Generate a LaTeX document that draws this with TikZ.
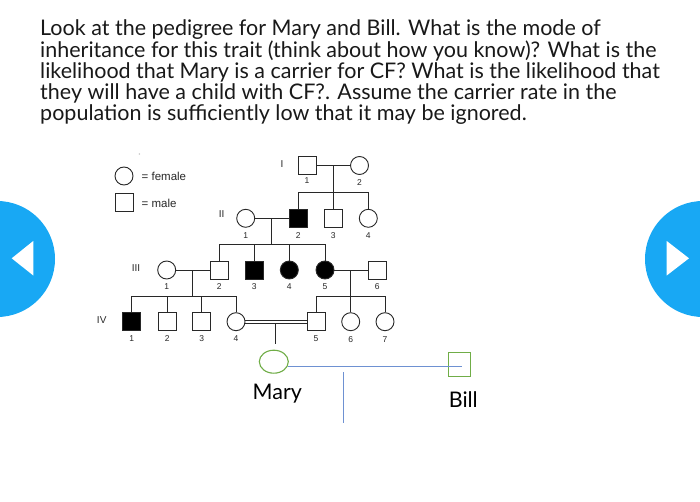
\documentclass[tikz,border=0pt]{standalone}
\usepackage{fontspec}
\usetikzlibrary{shapes.geometric}
\setmainfont{Lato}
\newfontfamily\pedfont{Liberation Sans}
\definecolor{btnblue}{RGB}{24,168,244}
\definecolor{marygreen}{RGB}{112,173,71}
\definecolor{lineblue}{RGB}{110,145,210}
\definecolor{pedline}{RGB}{40,40,40}
\definecolor{titletext}{RGB}{25,25,25}
\tikzset{
  male/.style={draw=pedline, line width=0.9pt, minimum size=18pt, inner sep=0pt, rectangle},
  female/.style={draw=pedline, line width=0.9pt, minimum size=18pt, inner sep=0pt, circle},
  aff/.style={fill=black},
  pline/.style={draw=pedline, line width=0.9pt},
  num/.style={font=\pedfont\fontsize{8.5}{9}\selectfont, text=pedline, inner sep=0pt},
  gen/.style={font=\pedfont\fontsize{10}{11}\selectfont, text=pedline, inner sep=0pt},
  titleline/.style={anchor=base west, inner sep=0pt, text=titletext, font=\fontsize{21.5}{22}\selectfont},
  big/.style={inner sep=0pt, font=\fontsize{21.5}{22}\selectfont, text=black},
  btn/.style={fill=btnblue, draw=none},
}
\begin{document}
\begin{tikzpicture}[x=1pt,y=-1pt]
\useasboundingbox (0,0) rectangle (700,502);
\fill[white] (0,0) rectangle (700,502);
% title
\node[titleline] (t1) at (40,36) {Look at the pedigree for Mary and Bill. What is the mode of};
\node[titleline] (t2) at (40,57.2) {inheritance for this trait (think about how you know)? What is the};
\node[titleline] (t3) at (40,78.4) {likelihood that Mary is a carrier for CF? What is the likelihood that};
\node[titleline] (t4) at (40,99.6) {they will have a child with CF?. Assume the carrier rate in the};
\node[titleline] (t5) at (40,120.8) {population is sufficiently low that it may be ignored.};
% buttons
\begin{scope}
\clip (0,0) rectangle (700,502);
\fill[btn] (-3,259) circle (58);
\fill[btn] (703,259) circle (58);
\end{scope}
\fill[white] (11.7,258.3) -- (33.3,241) -- (33.3,275.5) -- cycle;
\fill[white] (666.7,241) -- (666.7,275.5) -- (689,258.3) -- cycle;
% legend
\fill[gray!60] (139.3,154) circle (0.7);
\node[female] (lf) at (124,176) {};
\node[male] (lm) at (124.2,202.5) {};
\node[anchor=west, inner sep=0pt, font=\pedfont\fontsize{11.5}{12}\selectfont, text=pedline] (lft) at (141.5,176.5) {= female};
\node[anchor=west, inner sep=0pt, font=\pedfont\fontsize{11.5}{12}\selectfont, text=pedline] (lmt) at (141.5,203.3) {= male};
% generation labels
\node[gen] (gI) at (282,164) {I};
\node[gen] (gII) at (221.7,214) {II};
\node[gen] (gIII) at (136,268) {III};
\node[gen] (gIV) at (101.7,320) {IV};
% Gen I
\node[male] (I1) at (307,165.5) {};
\node[female] (I2) at (359.5,165.5) {};
% Gen II
\node[female] (II1) at (245.7,218.3) {};
\node[male,aff] (II2) at (298.3,218.3) {};
\node[male] (II3) at (333.3,218.3) {};
\node[female] (II4) at (368.3,218.3) {};
% Gen III
\node[female] (III1) at (166.7,270) {};
\node[male] (III2) at (219.3,270) {};
\node[male,aff] (III3) at (254.3,270) {};
\node[female,aff] (III4) at (289.3,270) {};
\node[female,aff] (III5) at (325,270) {};
\node[male] (III6) at (377.3,270) {};
% Gen IV
\node[male,aff] (IV1) at (131.7,321.7) {};
\node[male] (IV2) at (167.3,321.7) {};
\node[male] (IV3) at (201.7,321.7) {};
\node[female] (IV4) at (236,321.7) {};
\node[male] (IV5) at (316,321.7) {};
\node[female] (IV6) at (350.7,321.7) {};
\node[female] (IV7) at (385,321.7) {};
% numbers
\foreach \n/\t/\dy in {I1/1/15.5, I2/2/17.5, II1/1/17.7, II2/2/17.7, II3/3/17.7, II4/4/17.7,
  III1/1/16.7, III2/2/16.7, III3/3/16.7, III4/4/16.7, III5/5/16.7, III6/6/16.7,
  IV1/1/16.6, IV2/2/16.6, IV3/3/16.6, IV4/4/16.6, IV5/5/16.6, IV6/6/17.5, IV7/7/17.5}
  \node[num] (n\n) at ([yshift=-\dy pt]\n.center) {\t};
% Gen I lines
\coordinate (mI) at (333.3,165.5);
\coordinate (sI) at (333.3,192.3);
\draw[pline] (I1.east) -- (I2.west);
\draw[pline] (mI) -- (sI);
\draw[pline] (II2.north) |- (sI) -| (II4.north);
\draw[pline] (sI) -- (II3.north);
% Gen II lines
\coordinate (mII) at (271.7,218.3);
\coordinate (sII) at (271.7,244.3);
\draw[pline] (II1.east) -- (II2.west);
\draw[pline] (mII) -- (sII);
\draw[pline] (III2.north) |- (sII) -| (III5.north);
\draw[pline] (III3.north) -- (III3.north |- sII);
\draw[pline] (III4.north) -- (III4.north |- sII);
% Gen III lines
\coordinate (mIIIa) at (192.7,270);
\coordinate (sIIIa) at (192.7,296.7);
\draw[pline] (III1.east) -- (III2.west);
\draw[pline] (mIIIa) -- (sIIIa);
\draw[pline] (IV1.north) |- (sIIIa) -| (IV4.north);
\draw[pline] (IV2.north) -- (IV2.north |- sIIIa);
\draw[pline] (IV3.north) -- (IV3.north |- sIIIa);
\coordinate (mIIIb) at (350,270);
\coordinate (sIIIb) at (350,296.7);
\draw[pline] (III5.east) -- (III6.west);
\draw[pline] (mIIIb) -- (sIIIb);
\draw[pline] (IV5.north) |- (sIIIb) -| (IV7.north);
\draw[pline] (IV6.north) -- (IV6.north |- sIIIb);
% consanguineous marriage
\draw[pline] ([yshift=1.6pt]IV4.east) -- ([yshift=1.6pt]IV4.east -| IV5.west);
\draw[pline] ([yshift=-1.6pt]IV4.east) -- ([yshift=-1.6pt]IV4.east -| IV5.west);
\coordinate (cIVa) at (275,323.3);
\coordinate (cIVb) at (275,344);
\draw[pline] (cIVa) -- (cIVb);
% Mary and Bill
\node[draw=marygreen, line width=1.1pt, ellipse, minimum width=29pt, minimum height=23pt, inner sep=0pt] (Mary) at (273.8,361.7) {};
\node[draw=marygreen, line width=1.1pt, rectangle, minimum width=22pt, minimum height=24pt, inner sep=0pt] (Bill) at (459.2,364.7) {};
\coordinate (mb1) at (288,366.7);
\coordinate (mb2) at (461.7,366.7);
\draw[lineblue, line width=0.9pt] (mb1) -- (mb2);
\coordinate (ch1) at (343.3,372.3);
\coordinate (ch2) at (343.3,423.3);
\draw[lineblue, line width=0.9pt] (ch1) -- (ch2);
\node[big] (MaryT) at (277.3,393.3) {Mary};
\node[big] (BillT) at (463.3,400) {Bill};
\end{tikzpicture}
\end{document}
